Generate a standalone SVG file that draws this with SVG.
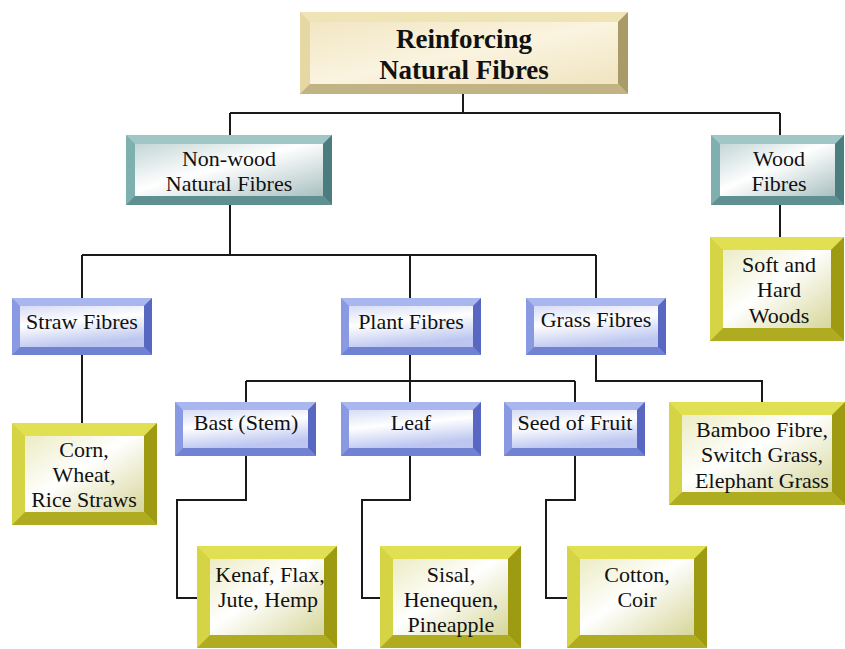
<svg xmlns="http://www.w3.org/2000/svg" width="845" height="649" viewBox="0 0 845 649" font-family="Liberation Serif, Tinos, Noto Serif, DejaVu Serif, Times New Roman, Times, serif">
<defs>
<style>
text{font-size:22px;fill:#111;text-anchor:middle}
.rt{font-size:27px;font-weight:bold}
.conn{fill:none;stroke:#1a1a1a;stroke-width:2}
.r-l{fill:#e6d8a2}.r-t{fill:#efe4b6}.r-r{fill:#a99b68}.r-b{fill:#c2b384}.r-f{fill:url(#gR)}
.t-l{fill:#7fb0b0}.t-t{fill:#a0c6c6}.t-r{fill:#4b7d7e}.t-b{fill:#5f8f90}.t-f{fill:url(#gT)}
.b-l{fill:#8a9ae2}.b-t{fill:#aab6ee}.b-r{fill:#5868c2}.b-b{fill:#7282d2}.b-f{fill:url(#gB)}
.y-l{fill:#d4d444}.y-t{fill:#e0e052}.y-r{fill:#9e9a12}.y-b{fill:#b0ac22}.y-f{fill:url(#gY)}
</style>
<linearGradient id="gR" x1="0" y1="0" x2="1" y2="1"><stop offset="0" stop-color="#f2e6c4"/><stop offset="0.5" stop-color="#faf3df"/><stop offset="1" stop-color="#f0e4c0"/></linearGradient>
<linearGradient id="gT" x1="0" y1="0" x2="1" y2="1"><stop offset="0" stop-color="#c4d6d6"/><stop offset="0.45" stop-color="#ffffff"/><stop offset="1" stop-color="#a9c0c0"/></linearGradient>
<linearGradient id="gB" x1="0" y1="0" x2="0.3" y2="1"><stop offset="0" stop-color="#d6dcf6"/><stop offset="0.45" stop-color="#ffffff"/><stop offset="1" stop-color="#bcc6f0"/></linearGradient>
<linearGradient id="gY" x1="0" y1="0" x2="1" y2="1"><stop offset="0" stop-color="#ececc4"/><stop offset="0.45" stop-color="#ffffff"/><stop offset="1" stop-color="#d6d69a"/></linearGradient>
</defs>
<rect width="845" height="649" fill="#ffffff"/>

<g id="connectors">
<path class="conn" d="M463,94 V113 M230,113 H780 M230,113 V135 M780,113 V135"/>
<path class="conn" d="M230,205 V255 M82,255 H596 M82,255 V298 M410,255 V298 M596,255 V298"/>
<path class="conn" d="M82,355 V423"/>
<path class="conn" d="M780,205 V237"/>
<path class="conn" d="M410,355 V381 M246,381 H575 M246,381 V402 M410,381 V402 M575,381 V402"/>
<path class="conn" d="M596,355 V381 H762 V402"/>
<path class="conn" d="M246,456 V500 H177 V598 H197"/>
<path class="conn" d="M410,456 V500 H362 V598 H380"/>
<path class="conn" d="M575,456 V500 H546 V598 H567"/>
</g>

<g id="root">
<rect class="r-l" x="300" y="12" width="328" height="82"/>
<polygon class="r-t" points="300,12 628,12 618,22 310,22"/>
<polygon class="r-r" points="628,12 628,94 618,84 618,22"/>
<polygon class="r-b" points="300,94 628,94 618,84 310,84"/>
<rect class="r-f" x="310" y="22" width="308" height="62"/>
<text class="rt" x="464" y="48">Reinforcing</text>
<text class="rt" x="464" y="79">Natural Fibres</text>
</g>

<g id="nonwood">
<rect class="t-l" x="126" y="135" width="206" height="70"/>
<polygon class="t-t" points="126,135 332,135 323,144 135,144"/>
<polygon class="t-r" points="332,135 332,205 323,196 323,144"/>
<polygon class="t-b" points="126,205 332,205 323,196 135,196"/>
<rect class="t-f" x="135" y="144" width="188" height="52"/>
<text x="229" y="166">Non-wood</text>
<text x="229" y="191">Natural Fibres</text>
</g>

<g id="wood">
<rect class="t-l" x="711" y="135" width="133" height="70"/>
<polygon class="t-t" points="711,135 844,135 835,144 720,144"/>
<polygon class="t-r" points="844,135 844,205 835,196 835,144"/>
<polygon class="t-b" points="711,205 844,205 835,196 720,196"/>
<rect class="t-f" x="720" y="144" width="115" height="52"/>
<text x="779" y="166">Wood</text>
<text x="779" y="191">Fibres</text>
</g>

<g id="softhard">
<rect class="y-l" x="710" y="237" width="134" height="104"/>
<polygon class="y-t" points="710,237 844,237 831,250 723,250"/>
<polygon class="y-r" points="844,237 844,341 831,328 831,250"/>
<polygon class="y-b" points="710,341 844,341 831,328 723,328"/>
<rect class="y-f" x="723" y="250" width="108" height="78"/>
<text x="779" y="272">Soft and</text>
<text x="779" y="297">Hard</text>
<text x="779" y="323">Woods</text>
</g>

<g id="straw">
<rect class="b-l" x="12" y="298" width="140" height="57"/>
<polygon class="b-t" points="12,298 152,298 144,306 20,306"/>
<polygon class="b-r" points="152,298 152,355 144,347 144,306"/>
<polygon class="b-b" points="12,355 152,355 144,347 20,347"/>
<rect class="b-f" x="20" y="306" width="124" height="41"/>
<text x="82" y="329">Straw Fibres</text>
</g>

<g id="plant">
<rect class="b-l" x="341" y="298" width="140" height="57"/>
<polygon class="b-t" points="341,298 481,298 473,306 349,306"/>
<polygon class="b-r" points="481,298 481,355 473,347 473,306"/>
<polygon class="b-b" points="341,355 481,355 473,347 349,347"/>
<rect class="b-f" x="349" y="306" width="124" height="41"/>
<text x="411" y="329">Plant Fibres</text>
</g>

<g id="grass">
<rect class="b-l" x="526" y="298" width="140" height="57"/>
<polygon class="b-t" points="526,298 666,298 658,306 534,306"/>
<polygon class="b-r" points="666,298 666,355 658,347 658,306"/>
<polygon class="b-b" points="526,355 666,355 658,347 534,347"/>
<rect class="b-f" x="534" y="306" width="124" height="41"/>
<text x="596" y="327">Grass Fibres</text>
</g>

<g id="bast">
<rect class="b-l" x="175" y="402" width="141" height="54"/>
<polygon class="b-t" points="175,402 316,402 308,410 183,410"/>
<polygon class="b-r" points="316,402 316,456 308,448 308,410"/>
<polygon class="b-b" points="175,456 316,456 308,448 183,448"/>
<rect class="b-f" x="183" y="410" width="125" height="38"/>
<text x="246" y="430">Bast (Stem)</text>
</g>

<g id="leaf">
<rect class="b-l" x="341" y="402" width="140" height="54"/>
<polygon class="b-t" points="341,402 481,402 473,410 349,410"/>
<polygon class="b-r" points="481,402 481,456 473,448 473,410"/>
<polygon class="b-b" points="341,456 481,456 473,448 349,448"/>
<rect class="b-f" x="349" y="410" width="124" height="38"/>
<text x="411" y="430">Leaf</text>
</g>

<g id="seed">
<rect class="b-l" x="504" y="402" width="141" height="54"/>
<polygon class="b-t" points="504,402 645,402 637,410 512,410"/>
<polygon class="b-r" points="645,402 645,456 637,448 637,410"/>
<polygon class="b-b" points="504,456 645,456 637,448 512,448"/>
<rect class="b-f" x="512" y="410" width="125" height="38"/>
<text x="575" y="430">Seed of Fruit</text>
</g>

<g id="bamboo">
<rect class="y-l" x="669" y="402" width="176" height="103"/>
<polygon class="y-t" points="669,402 845,402 832,415 682,415"/>
<polygon class="y-r" points="845,402 845,505 832,492 832,415"/>
<polygon class="y-b" points="669,505 845,505 832,492 682,492"/>
<rect class="y-f" x="682" y="415" width="150" height="77"/>
<text x="762" y="437">Bamboo Fibre,</text>
<text x="762" y="462">Switch Grass,</text>
<text x="762" y="488">Elephant Grass</text>
</g>

<g id="corn">
<rect class="y-l" x="12" y="423" width="145" height="102"/>
<polygon class="y-t" points="12,423 157,423 144,436 25,436"/>
<polygon class="y-r" points="157,423 157,525 144,512 144,436"/>
<polygon class="y-b" points="12,525 157,525 144,512 25,512"/>
<rect class="y-f" x="25" y="436" width="119" height="76"/>
<text x="84" y="457">Corn,</text>
<text x="84" y="482">Wheat,</text>
<text x="84" y="507">Rice Straws</text>
</g>

<g id="kenaf">
<rect class="y-l" x="197" y="546" width="140" height="102"/>
<polygon class="y-t" points="197,546 337,546 324,559 210,559"/>
<polygon class="y-r" points="337,546 337,648 324,635 324,559"/>
<polygon class="y-b" points="197,648 337,648 324,635 210,635"/>
<rect class="y-f" x="210" y="559" width="114" height="76"/>
<text x="270" y="582">Kenaf, Flax,</text>
<text x="268" y="607">Jute, Hemp</text>
</g>

<g id="sisal">
<rect class="y-l" x="380" y="546" width="141" height="102"/>
<polygon class="y-t" points="380,546 521,546 508,559 393,559"/>
<polygon class="y-r" points="521,546 521,648 508,635 508,559"/>
<polygon class="y-b" points="380,648 521,648 508,635 393,635"/>
<rect class="y-f" x="393" y="559" width="115" height="76"/>
<text x="451" y="582">Sisal,</text>
<text x="451" y="607">Henequen,</text>
<text x="451" y="632">Pineapple</text>
</g>

<g id="cotton">
<rect class="y-l" x="567" y="546" width="140" height="102"/>
<polygon class="y-t" points="567,546 707,546 694,559 580,559"/>
<polygon class="y-r" points="707,546 707,648 694,635 694,559"/>
<polygon class="y-b" points="567,648 707,648 694,635 580,635"/>
<rect class="y-f" x="580" y="559" width="114" height="76"/>
<text x="637" y="582">Cotton,</text>
<text x="637" y="607">Coir</text>
</g>
</svg>
